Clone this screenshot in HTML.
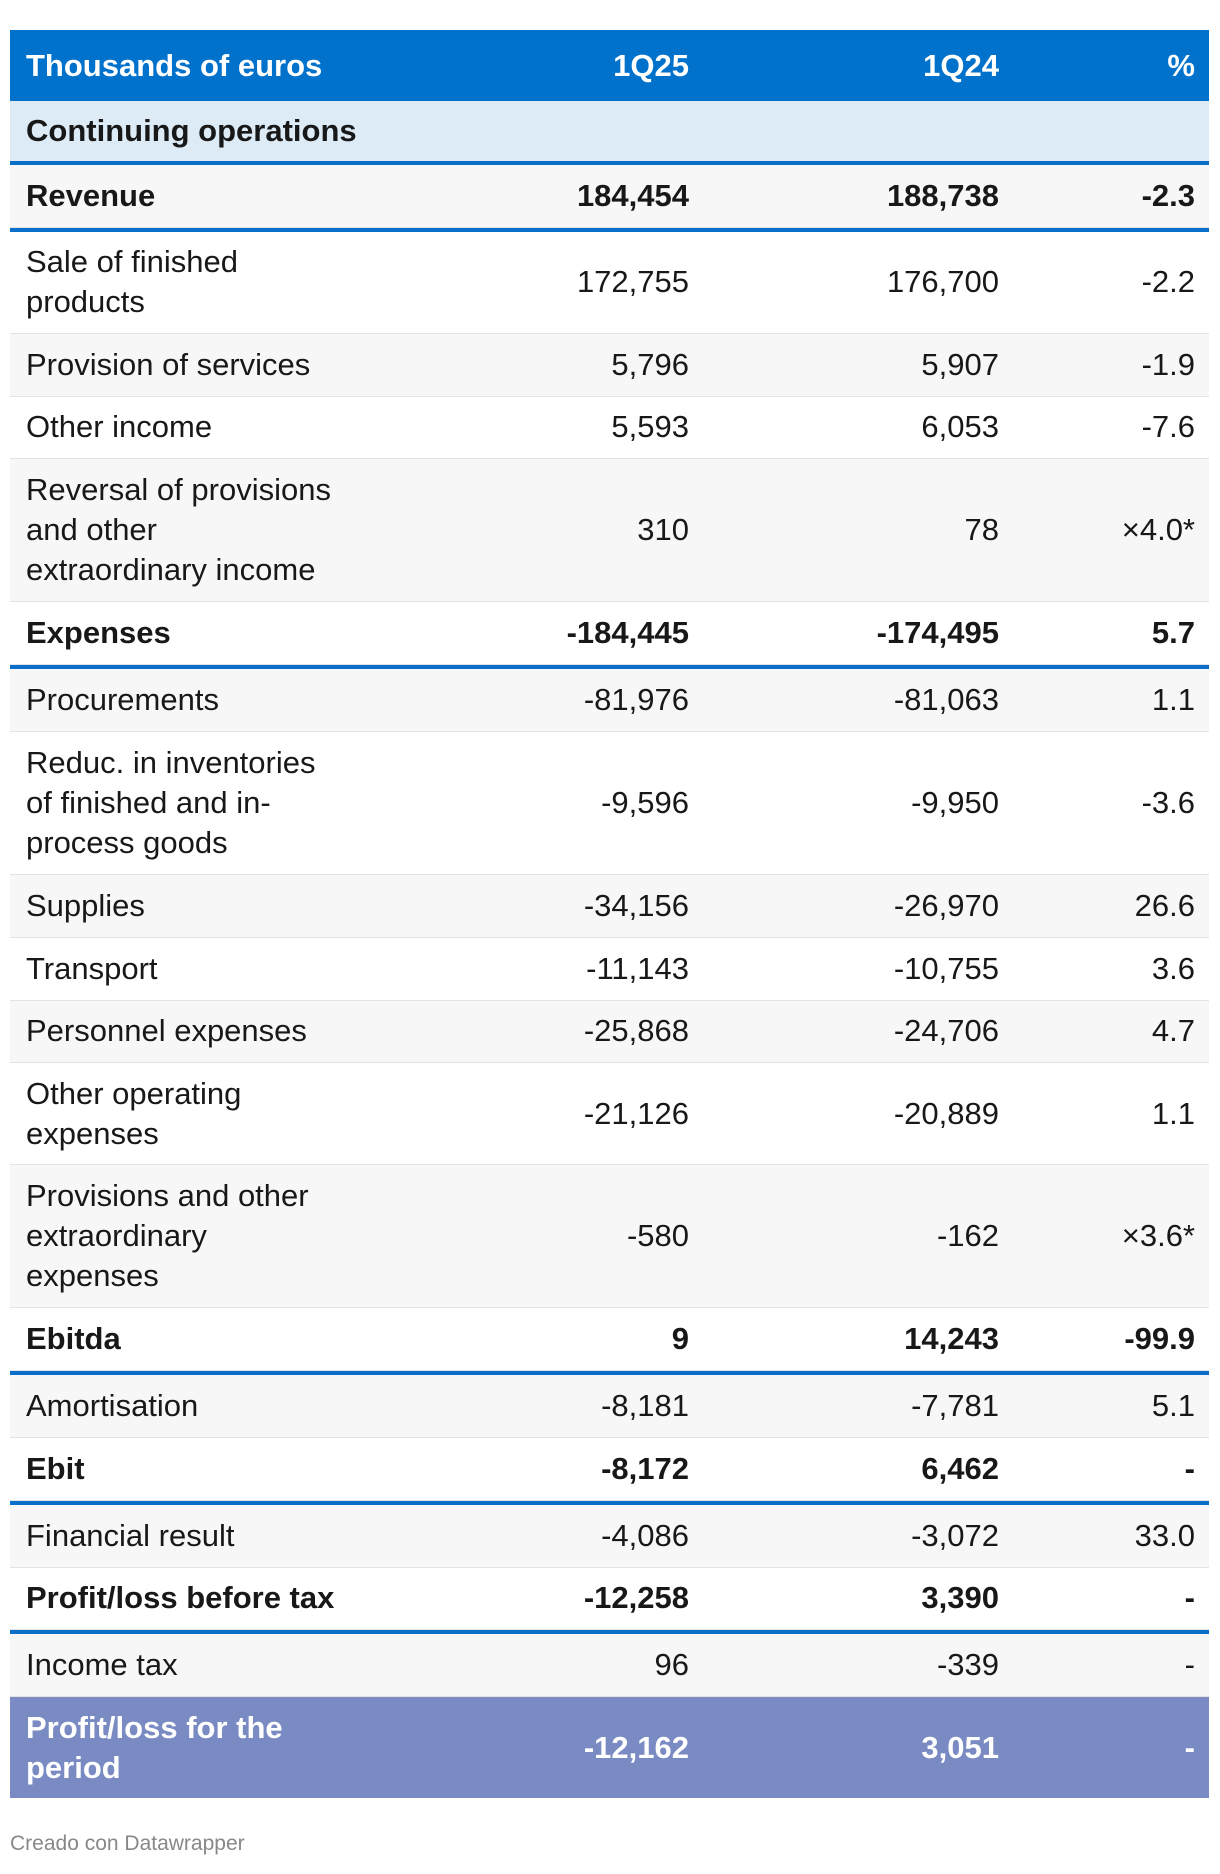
<!DOCTYPE html>
<html><head><meta charset="utf-8">
<style>
*{box-sizing:border-box;margin:0;padding:0}
body{width:1220px;height:1874px;background:#fff;font-family:"Liberation Sans",Arial,sans-serif;color:#181818;position:relative;overflow:hidden}
#tbl{position:absolute;left:10px;top:30px;width:1199px}
.r{display:flex;align-items:center;border-bottom:1px solid #e3e3e3;font-size:31px;line-height:40px;height:62.8px}
.r.d{height:102px}.r.t{height:143px}
.c0{width:500px;padding-left:16px;white-space:nowrap}
.c1{width:179px;text-align:right}
.c2{width:310px;text-align:right}
.c3{width:196px;text-align:right}
.g{background:#f7f7f7}.w{background:#fff}
.b{font-weight:bold}
.line{height:4px;background:#0a6fc8}
.hdr{background:#0072cc;color:#fff;font-weight:bold;height:71px;border:none}
.cont{background:#ddebf7;font-weight:bold;height:60px;border:none}
.tot{background:#798bc2;color:#fff;font-weight:bold;height:101px;border:none}
#foot{position:absolute;left:10px;top:1832px;font-size:21px;color:#888}
</style></head><body>
<div id="tbl">
<div class="r hdr"><div class="c0">Thousands of euros</div><div class="c1">1Q25</div><div class="c2">1Q24</div><div class="c3">%</div></div>
<div class="r cont"><div class="c0">Continuing operations</div></div>
<div class="line"></div>
<div class="r g b"><div class="c0">Revenue</div><div class="c1">184,454</div><div class="c2">188,738</div><div class="c3">-2.3</div></div>
<div class="line"></div>
<div class="r d w"><div class="c0">Sale of finished<br>products</div><div class="c1">172,755</div><div class="c2">176,700</div><div class="c3">-2.2</div></div>
<div class="r g"><div class="c0">Provision of services</div><div class="c1">5,796</div><div class="c2">5,907</div><div class="c3">-1.9</div></div>
<div class="r w"><div class="c0">Other income</div><div class="c1">5,593</div><div class="c2">6,053</div><div class="c3">-7.6</div></div>
<div class="r t g"><div class="c0">Reversal of provisions<br>and other<br>extraordinary income</div><div class="c1">310</div><div class="c2">78</div><div class="c3">×4.0*</div></div>
<div class="r w b"><div class="c0">Expenses</div><div class="c1">-184,445</div><div class="c2">-174,495</div><div class="c3">5.7</div></div>
<div class="line"></div>
<div class="r g"><div class="c0">Procurements</div><div class="c1">-81,976</div><div class="c2">-81,063</div><div class="c3">1.1</div></div>
<div class="r t w"><div class="c0">Reduc. in inventories<br>of finished and in-<br>process goods</div><div class="c1">-9,596</div><div class="c2">-9,950</div><div class="c3">-3.6</div></div>
<div class="r g"><div class="c0">Supplies</div><div class="c1">-34,156</div><div class="c2">-26,970</div><div class="c3">26.6</div></div>
<div class="r w"><div class="c0">Transport</div><div class="c1">-11,143</div><div class="c2">-10,755</div><div class="c3">3.6</div></div>
<div class="r g"><div class="c0">Personnel expenses</div><div class="c1">-25,868</div><div class="c2">-24,706</div><div class="c3">4.7</div></div>
<div class="r d w"><div class="c0">Other operating<br>expenses</div><div class="c1">-21,126</div><div class="c2">-20,889</div><div class="c3">1.1</div></div>
<div class="r t g"><div class="c0">Provisions and other<br>extraordinary<br>expenses</div><div class="c1">-580</div><div class="c2">-162</div><div class="c3">×3.6*</div></div>
<div class="r w b"><div class="c0">Ebitda</div><div class="c1">9</div><div class="c2">14,243</div><div class="c3">-99.9</div></div>
<div class="line"></div>
<div class="r g"><div class="c0">Amortisation</div><div class="c1">-8,181</div><div class="c2">-7,781</div><div class="c3">5.1</div></div>
<div class="r w b"><div class="c0">Ebit</div><div class="c1">-8,172</div><div class="c2">6,462</div><div class="c3">-</div></div>
<div class="line"></div>
<div class="r g"><div class="c0">Financial result</div><div class="c1">-4,086</div><div class="c2">-3,072</div><div class="c3">33.0</div></div>
<div class="r w b"><div class="c0">Profit/loss before tax</div><div class="c1">-12,258</div><div class="c2">3,390</div><div class="c3">-</div></div>
<div class="line"></div>
<div class="r g"><div class="c0">Income tax</div><div class="c1">96</div><div class="c2">-339</div><div class="c3">-</div></div>
<div class="r tot"><div class="c0">Profit/loss for the<br>period</div><div class="c1">-12,162</div><div class="c2">3,051</div><div class="c3">-</div></div>
</div>
<div id="foot">Creado con Datawrapper</div>
</body></html>
